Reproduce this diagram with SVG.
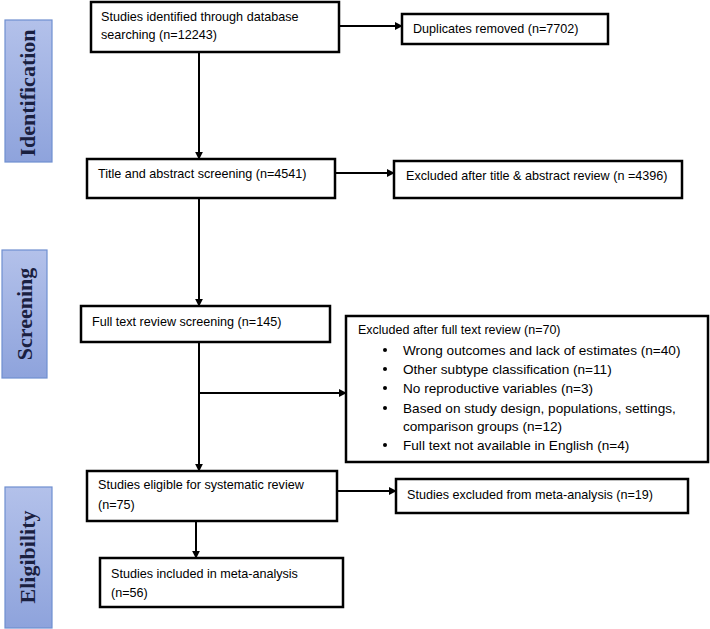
<svg xmlns="http://www.w3.org/2000/svg" width="710" height="629" viewBox="0 0 710 629">
<defs>
<linearGradient id="lab" x1="0" y1="0" x2="0" y2="1">
<stop offset="0" stop-color="#b3c1ea"/>
<stop offset="1" stop-color="#8ea3dc"/>
</linearGradient>
<marker id="ah" viewBox="0 0 10 10" refX="9" refY="5" markerWidth="4" markerHeight="4" orient="auto" markerUnits="strokeWidth">
<path d="M0,0 L10,5 L0,10 z" fill="#000"/>
</marker>
</defs>
<style>
.box{fill:#fff;stroke:#000;stroke-width:2.5}
.lab{fill:url(#lab);stroke:#6f8fd0;stroke-width:1.2}
.lt{font-family:"Liberation Serif",serif;font-weight:bold;font-size:22px;fill:#1a2040;text-anchor:middle}
.t{font-family:"Liberation Sans",Arial,sans-serif;font-size:12.6px;fill:#000}
.s{font-family:"Liberation Sans",Arial,sans-serif;font-size:12.5px;fill:#000}
.b{font-family:"Liberation Sans",Arial,sans-serif;font-size:13.6px;fill:#000}
.c{fill:none;stroke:#000;stroke-width:2}
.ca{fill:none;stroke:#000;stroke-width:2;marker-end:url(#ah)}
</style>
<rect width="710" height="629" fill="#fff"/>
<g id="label-identification">
<rect class="lab" x="5" y="20" width="47" height="142"/>
<text class="lt" transform="translate(35,93) rotate(-90)">Identification</text>
</g>
<g id="label-screening">
<rect class="lab" x="2" y="250" width="45" height="128"/>
<text class="lt" transform="translate(32,314) rotate(-90)">Screening</text>
</g>
<g id="label-eligibility">
<rect class="lab" x="5" y="487" width="47" height="141"/>
<text class="lt" transform="translate(35,557) rotate(-90)">Eligibility</text>
</g>
<g id="connectors">
<line class="ca" x1="199" y1="52" x2="199" y2="159"/>
<line class="ca" x1="339" y1="26" x2="402" y2="26"/>
<line class="ca" x1="335" y1="173" x2="394" y2="173"/>
<line class="ca" x1="199" y1="198" x2="199" y2="306"/>
<line class="ca" x1="199" y1="342" x2="199" y2="471"/>
<line class="ca" x1="199" y1="393" x2="346" y2="393"/>
<line class="ca" x1="337" y1="491" x2="396" y2="491"/>
<line class="ca" x1="196" y1="521" x2="196" y2="558"/>
</g>
<g id="n-identified">
<rect class="box" x="91" y="2" width="248" height="50"/>
<text class="t" x="101" y="21">Studies identified through database</text>
<text class="t" x="101" y="39">searching (n=12243)</text>
</g>
<g id="n-duplicates">
<rect class="box" x="402" y="14" width="206" height="30"/>
<text class="t" x="413" y="33">Duplicates removed (n=7702)</text>
</g>
<g id="n-title">
<rect class="box" x="87" y="159" width="248" height="39"/>
<text class="t" x="98" y="178">Title and abstract screening (n=4541)</text>
</g>
<g id="n-excl-title">
<rect class="box" x="394" y="161" width="288" height="37"/>
<text class="t" x="406" y="180">Excluded after title &amp; abstract review (n =4396)</text>
</g>
<g id="n-fulltext">
<rect class="box" x="81" y="306" width="249" height="36"/>
<text class="t" x="92" y="326">Full text review screening (n=145)</text>
</g>
<g id="n-excl-full">
<rect class="box" x="346" y="316" width="362" height="146"/>
<text class="s" x="358" y="334">Excluded after full text review (n=70)</text>
<g class="b">
<circle cx="385" cy="350" r="2"/>
<text x="403" y="355">Wrong outcomes and lack of estimates (n=40)</text>
<circle cx="385" cy="369" r="2"/>
<text x="403" y="374">Other subtype classification (n=11)</text>
<circle cx="385" cy="388" r="2"/>
<text x="403" y="393">No reproductive variables (n=3)</text>
<circle cx="385" cy="408" r="2"/>
<text x="403" y="413">Based on study design, populations, settings,</text>
<text x="403" y="431">comparison groups (n=12)</text>
<circle cx="385" cy="445" r="2"/>
<text x="403" y="450">Full text not available in English (n=4)</text>
</g>
</g>
<g id="n-eligible">
<rect class="box" x="87" y="471" width="250" height="50"/>
<text class="t" x="98" y="489">Studies eligible for systematic review</text>
<text class="t" x="98" y="509">(n=75)</text>
</g>
<g id="n-excl-meta">
<rect class="box" x="396" y="479" width="292" height="34"/>
<text class="t" x="407" y="499">Studies excluded from meta-analysis (n=19)</text>
</g>
<g id="n-included">
<rect class="box" x="100" y="558" width="243" height="49"/>
<text class="t" x="111" y="578">Studies included in meta-analysis</text>
<text class="t" x="111" y="597">(n=56)</text>
</g>
</svg>
